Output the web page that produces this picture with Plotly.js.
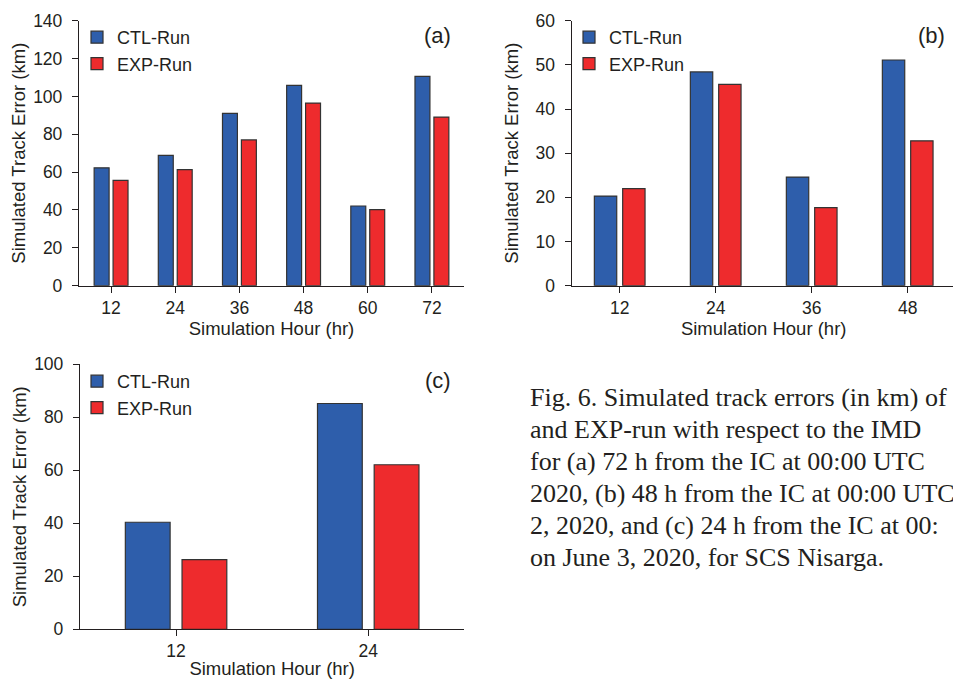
<!DOCTYPE html>
<html>
<head>
<meta charset="utf-8">
<script src="https://cdn.plot.ly/plotly-3.0.1.min.js"></script>
<style>
html,body{margin:0;padding:0;overflow:hidden;background:#fff;width:953px;height:679px;}
#chart{width:960px;height:679px;}
</style>
</head>
<body>
<div id="chart"></div>
<script>
// ---- data ----
const hoursA = ['12','24','36','48','60','72'];
const ctlA = [62.3, 68.9, 91.0, 105.8, 42.1, 110.6];
const expA = [55.6, 61.3, 77.0, 96.5, 40.2, 89.1];

const hoursB = ['12','24','36','48'];
const ctlB = [20.3, 48.4, 24.6, 51.1];
const expB = [22.0, 45.6, 17.7, 32.8];

const hoursC = ['12','24'];
const ctlC = [40.4, 85.2];
const expC = [26.3, 62.1];

const seriesNames = ['CTL-Run', 'EXP-Run'];
const panelLabels = ['(a)', '(b)', '(c)'];
const captionLines = [
  'Fig. 6. Simulated track errors (in km) of',
  'and EXP-run with respect to the IMD',
  'for (a) 72 h from the IC at 00:00 UTC',
  '2020, (b) 48 h from the IC at 00:00 UTC',
  '2, 2020, and (c) 24 h from the IC at 00:',
  'on June 3, 2020, for SCS Nisarga.'
];
const xTitle = 'Simulation Hour (hr)';
const yTitle = 'Simulated Track Error (km)';

// ---- styles ----
const W = 960, H = 679;
const BLUE = '#2E5EAB', RED = '#EE2B2D', EDGE = '#333333', INK = '#231F20';
const FONT = 'Liberation Sans, Arial, sans-serif';
const px = v => v / W;
const py = v => 1 - v / H;

function barTrace(x, y, name, color, xa, ya, legend) {
  return {
    type: 'bar', x: x, y: y, name: name, xaxis: xa, yaxis: ya, legend: legend,
    marker: {color: color, line: {color: EDGE, width: 1.2}},
    hoverinfo: 'x+y+name'
  };
}

const traces = [
  barTrace(hoursA, ctlA, seriesNames[0], BLUE, 'x', 'y', 'legend'),
  barTrace(hoursA, expA, seriesNames[1], RED, 'x', 'y', 'legend'),
  barTrace(hoursB, ctlB, seriesNames[0], BLUE, 'x2', 'y2', 'legend2'),
  barTrace(hoursB, expB, seriesNames[1], RED, 'x2', 'y2', 'legend2'),
  barTrace(hoursC, ctlC, seriesNames[0], BLUE, 'x3', 'y3', 'legend3'),
  barTrace(hoursC, expC, seriesNames[1], RED, 'x3', 'y3', 'legend3')
];

function xAxis(domain, yref, n) {
  return {
    domain: domain, anchor: yref, type: 'category', range: [-0.5, n - 0.5],
    showline: true, linecolor: INK, linewidth: 1.3, mirror: false,
    ticks: 'outside', ticklen: 6, tickwidth: 1.3, tickcolor: INK,
    showgrid: false, zeroline: false, fixedrange: true,
    tickfont: {family: FONT, size: 17.5, color: INK},
    title: {text: xTitle, font: {family: FONT, size: 18.5, color: INK}, standoff: 2}
  };
}
function yAxis(domain, xref, max, dtick, standoff) {
  return {
    domain: domain, anchor: xref, range: [0, max], dtick: dtick,
    showline: true, linecolor: INK, linewidth: 1.3,
    ticks: 'outside', ticklen: 6, tickwidth: 1.3, tickcolor: INK,
    ticklabelstandoff: 6,
    showgrid: false, zeroline: false, fixedrange: true,
    tickfont: {family: FONT, size: 17.5, color: INK},
    title: {text: yTitle, font: {family: FONT, size: 18.5, color: INK}, standoff: standoff}
  };
}
function legendAt(xp, yp) {
  return {
    x: px(xp), y: py(yp), xanchor: 'left', yanchor: 'top',
    bgcolor: 'rgba(0,0,0,0)', borderwidth: 0,
    font: {family: FONT, size: 18, color: INK},
    itemwidth: 30, tracegroupgap: 0
  };
}

const annotations = [
  {text: panelLabels[0], x: px(437.5), y: py(35)},
  {text: panelLabels[1], x: px(931), y: py(35)},
  {text: panelLabels[2], x: px(438), y: py(380)}
].map(a => Object.assign(a, {
  xref: 'paper', yref: 'paper', showarrow: false, xanchor: 'center', yanchor: 'middle',
  font: {family: FONT, size: 22, color: INK}
}));

const capY = [397, 429, 461, 493, 525, 557];
captionLines.forEach((t, i) => {
  annotations.push({
    text: t, xref: 'paper', yref: 'paper', x: px(528), y: py(capY[i]),
    xanchor: 'left', yanchor: 'middle', showarrow: false, align: 'left',
    font: {family: 'Liberation Serif, Times New Roman, serif', size: 26, color: INK}
  });
});

const layout = {
  width: W, height: H,
  margin: {l: 0, r: 0, t: 0, b: 0},
  paper_bgcolor: '#fff', plot_bgcolor: 'rgba(0,0,0,0)',
  barmode: 'group', bargap: 0.41, bargroupgap: 0.21,
  font: {family: FONT, color: INK},
  xaxis: xAxis([px(79), px(464)], 'y', hoursA.length),
  yaxis: yAxis([py(285.7), py(20.7)], 'x', 140, 20, 2),
  xaxis2: xAxis([px(571.7), px(955.7)], 'y2', hoursB.length),
  yaxis2: yAxis([py(285.7), py(20.7)], 'x2', 60, 10, 11.5),
  xaxis3: xAxis([px(80), px(464.3)], 'y3', hoursC.length),
  yaxis3: yAxis([py(629.3), py(364.3)], 'x3', 100, 20, 2),
  legend: legendAt(77, 19),
  legend2: legendAt(569, 19),
  legend3: legendAt(77, 363),
  annotations: annotations
};

Plotly.newPlot('chart', traces, layout, {displayModeBar: false});
</script>
</body>
</html>
